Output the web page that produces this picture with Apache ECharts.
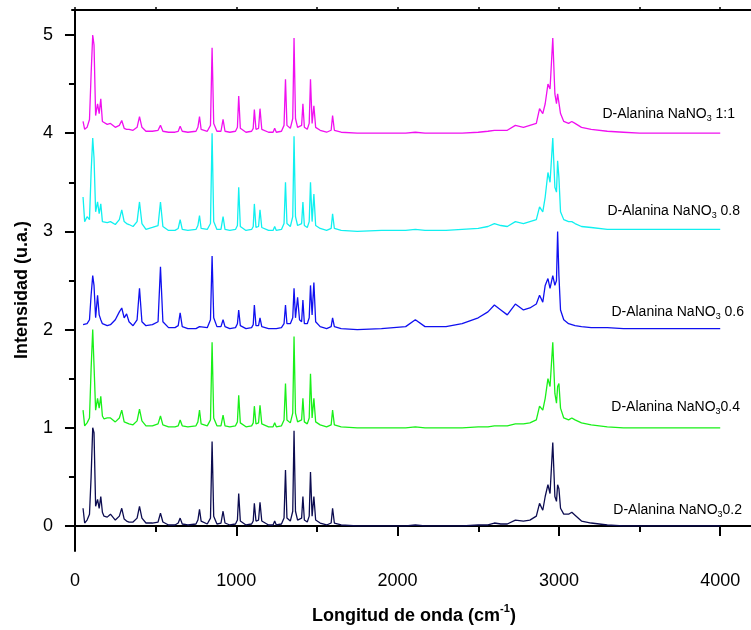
<!DOCTYPE html>
<html>
<head>
<meta charset="utf-8">
<script src="https://cdn.jsdelivr.net/npm/echarts@6/dist/echarts.min.js"></script>
<style>html,body{margin:0;padding:0;background:#fff}#c{width:751px;height:630px}</style>
</head>
<body>
<div id="c"></div>
<script>
// Wavenumber (cm^-1) shared by all spectra
var XS = [
  50, 60, 75, 90, 100, 110, 118, 128, 140, 150, 160, 170, 180, 200, 220, 250, 275, 290, 305, 320,
  335, 360, 385, 400, 415, 440, 480, 515, 530, 545, 580, 620, 640, 652, 665, 700, 750, 762, 772, 782,
  820, 840, 850, 860, 880, 905, 918, 930, 960, 995, 1007, 1015, 1025, 1060, 1095, 1105, 1112, 1122, 1138, 1147,
  1158, 1200, 1228, 1238, 1248, 1280, 1296, 1305, 1314, 1335, 1350, 1358, 1367, 1380, 1392, 1405, 1413, 1422, 1440, 1452,
  1460, 1470, 1481, 1492, 1520, 1560, 1588, 1597, 1608, 1650, 1750, 1900, 2050, 2110, 2170, 2300, 2400, 2500, 2560, 2600,
  2640, 2680, 2730, 2780, 2820, 2860, 2880, 2900, 2915, 2932, 2945, 2962, 2975, 2985, 2992, 3000, 3010, 3030, 3060, 3080,
  3100, 3140, 3200, 3300, 3400, 3500, 3600, 3700, 3800, 4000
];
var Y_02 = [
  0.18, 0.03, 0.06, 0.12, 0.5, 1.0, 0.95, 0.2, 0.27, 0.18, 0.3, 0.14, 0.1, 0.09, 0.12, 0.06, 0.1, 0.18, 0.07, 0.05,
  0.04, 0.04, 0.08, 0.2, 0.08, 0.03, 0.03, 0.04, 0.13, 0.04, 0.01, 0.01, 0.03, 0.08, 0.02, 0.01, 0.02, 0.06, 0.17, 0.05,
  0.02, 0.08, 0.86, 0.1, 0.02, 0.03, 0.15, 0.03, 0.01, 0.02, 0.06, 0.33, 0.05, 0.01, 0.02, 0.05, 0.23, 0.05, 0.06, 0.24,
  0.05, 0.01, 0.01, 0.05, 0.01, 0.02, 0.08, 0.57, 0.08, 0.05, 0.15, 0.97, 0.15, 0.06, 0.06, 0.08, 0.3, 0.06, 0.04, 0.1,
  0.55, 0.1, 0.3, 0.06, 0.03, 0.01, 0.03, 0.18, 0.03, 0.01, 0.0, 0.0, 0.0, 0.01, 0.0, 0.0, 0.0, 0.01, 0.01, 0.03,
  0.02, 0.02, 0.06, 0.05, 0.06, 0.1, 0.23, 0.16, 0.3, 0.42, 0.33, 0.85, 0.3, 0.25, 0.42, 0.38, 0.18, 0.12, 0.12, 0.14,
  0.11, 0.05, 0.03, 0.01, 0.0, 0.0, 0.0, 0.0, 0.0, 0.0
];
var Y_04 = [
  1.18, 1.02, 1.05, 1.1, 1.6, 2.0, 1.98, 1.18, 1.3, 1.2, 1.32, 1.12, 1.09, 1.1, 1.1, 1.06, 1.1, 1.18, 1.06, 1.05,
  1.04, 1.03, 1.07, 1.19, 1.07, 1.02, 1.02, 1.04, 1.12, 1.03, 1.01, 1.01, 1.02, 1.08, 1.02, 1.01, 1.02, 1.06, 1.18, 1.04,
  1.02, 1.08, 1.87, 1.1, 1.02, 1.02, 1.13, 1.02, 1.01, 1.02, 1.06, 1.33, 1.05, 1.01, 1.02, 1.05, 1.22, 1.04, 1.05, 1.23,
  1.04, 1.01, 1.01, 1.05, 1.01, 1.02, 1.08, 1.45, 1.08, 1.05, 1.15, 1.93, 1.15, 1.06, 1.06, 1.08, 1.3, 1.06, 1.04, 1.1,
  1.55, 1.1, 1.3, 1.06, 1.03, 1.01, 1.03, 1.18, 1.03, 1.01, 1.0, 1.0, 1.0, 1.01, 1.0, 1.0, 1.0, 1.01, 1.01, 1.02,
  1.02, 1.02, 1.04, 1.04, 1.05, 1.08, 1.22, 1.18, 1.3, 1.5, 1.42, 1.87, 1.35, 1.25, 1.42, 1.45, 1.2, 1.1, 1.08, 1.1,
  1.08, 1.05, 1.03, 1.01, 1.0, 1.0, 1.0, 1.0, 1.0, 1.0
];
var Y_06 = [
  2.05, 2.03, 2.06, 2.1, 2.35, 2.55, 2.45, 2.12, 2.35, 2.15, 2.1, 2.06, 2.05, 2.04, 2.05, 2.1, 2.18, 2.22, 2.12, 2.16,
  2.08, 2.04, 2.1, 2.42, 2.08, 2.04, 2.05, 2.08, 2.64, 2.08, 2.02, 2.02, 2.04, 2.17, 2.03, 2.01, 2.01, 2.01, 2.03, 2.01,
  2.02, 2.1, 2.75, 2.12, 2.03, 2.03, 2.1, 2.03, 2.01, 2.02, 2.06, 2.2, 2.04, 2.01, 2.02, 2.05, 2.25, 2.04, 2.04, 2.12,
  2.03, 2.01, 2.01, 2.02, 2.01, 2.02, 2.06, 2.25, 2.06, 2.06, 2.12, 2.42, 2.12, 2.33, 2.1, 2.08, 2.3, 2.06, 2.06, 2.12,
  2.45, 2.15, 2.48, 2.08, 2.03, 2.01, 2.03, 2.12, 2.03, 2.01, 2.0, 2.01, 2.03, 2.1, 2.03, 2.03, 2.06, 2.12, 2.18, 2.25,
  2.2, 2.15, 2.26, 2.2, 2.22, 2.26, 2.35, 2.28, 2.45, 2.52, 2.42, 2.55, 2.45, 2.5, 3.0, 2.55, 2.2, 2.1, 2.06, 2.05,
  2.04, 2.03, 2.02, 2.02, 2.01, 2.01, 2.01, 2.01, 2.01, 2.01
];
var Y_08 = [
  3.35, 3.1, 3.15, 3.12, 3.6, 3.95, 3.75, 3.2, 3.3, 3.18, 3.28, 3.1, 3.1, 3.09, 3.1, 3.07, 3.12, 3.22, 3.1, 3.08,
  3.07, 3.05, 3.1, 3.3, 3.08, 3.02, 3.04, 3.06, 3.3, 3.05, 3.01, 3.01, 3.03, 3.12, 3.02, 3.01, 3.02, 3.06, 3.16, 3.03,
  3.02, 3.08, 4.0, 3.1, 3.02, 3.02, 3.15, 3.02, 3.01, 3.02, 3.06, 3.45, 3.05, 3.01, 3.02, 3.05, 3.28, 3.04, 3.05, 3.22,
  3.04, 3.01, 3.01, 3.05, 3.01, 3.02, 3.08, 3.5, 3.08, 3.05, 3.15, 3.97, 3.15, 3.06, 3.06, 3.08, 3.3, 3.06, 3.04, 3.1,
  3.5, 3.1, 3.38, 3.06, 3.03, 3.01, 3.03, 3.18, 3.03, 3.01, 3.0, 3.01, 3.01, 3.02, 3.01, 3.01, 3.02, 3.03, 3.05, 3.08,
  3.06, 3.05, 3.1, 3.08, 3.1, 3.12, 3.25, 3.2, 3.35, 3.6, 3.5, 3.95, 3.45, 3.4, 3.72, 3.55, 3.2, 3.12, 3.1, 3.1,
  3.08, 3.05, 3.04, 3.02, 3.02, 3.02, 3.02, 3.02, 3.02, 3.02
];
var Y_11 = [
  4.12, 4.04, 4.06, 4.14, 4.6, 5.0, 4.9, 4.18, 4.3, 4.2, 4.35, 4.12, 4.1, 4.09, 4.1, 4.06, 4.08, 4.13, 4.05, 4.04,
  4.04, 4.03, 4.06, 4.17, 4.06, 4.02, 4.02, 4.03, 4.08, 4.02, 4.01, 4.01, 4.02, 4.07, 4.02, 4.01, 4.02, 4.06, 4.17, 4.04,
  4.02, 4.08, 4.87, 4.1, 4.02, 4.02, 4.14, 4.02, 4.01, 4.02, 4.06, 4.38, 4.05, 4.01, 4.02, 4.05, 4.24, 4.04, 4.05, 4.25,
  4.04, 4.01, 4.01, 4.05, 4.01, 4.02, 4.08, 4.55, 4.08, 4.05, 4.15, 4.97, 4.15, 4.06, 4.06, 4.08, 4.3, 4.06, 4.04, 4.1,
  4.55, 4.1, 4.28, 4.06, 4.03, 4.01, 4.03, 4.18, 4.03, 4.01, 4.0, 4.0, 4.0, 4.01, 4.0, 4.0, 4.0, 4.01, 4.02, 4.03,
  4.03, 4.03, 4.08, 4.06, 4.08, 4.1, 4.25, 4.2, 4.3, 4.5, 4.45, 4.97, 4.4, 4.3, 4.4, 4.42, 4.2, 4.12, 4.1, 4.12,
  4.1, 4.06, 4.04, 4.02, 4.01, 4.0, 4.0, 4.0, 4.0, 4.0
];
var SERIES_NAMES = ['0.2', '0.4', '0.6', '0.8', '1:1'];
var X_TICKS = [0, 1000, 2000, 3000, 4000];
var X_MINOR = [500, 1500, 2500, 3500];
var Y_TICKS = [0, 1, 2, 3, 4, 5];
var Y_MINOR = [0.5, 1.5, 2.5, 3.5, 4.5];

var FONT = '"Liberation Sans", Arial, Helvetica, sans-serif';
function pairs(ys) { return XS.map(function (x, i) { return [x, ys[i]]; }); }
function plain(v) { return String(Math.round(v)); }

var chart = echarts.init(document.getElementById('c'), null, { renderer: 'canvas' });
var XMIN = -18.46, XMAX = 4190.8, YMIN = -0.255, YMAX = 5.255;
var axisLine = { show: true, lineStyle: { color: '#000', width: 2 } };
var option = {
  animation: false,
  backgroundColor: '#fff',
  grid: { left: 72, right: -5, top: 10, bottom: 79, containLabel: false },
  xAxis: [
    { type: 'value', min: XMIN, max: XMAX, position: 'bottom', axisLine: axisLine,
      axisTick: { show: true, customValues: X_TICKS, length: 10, lineStyle: { color: '#000', width: 2 } },
      axisLabel: { customValues: X_TICKS, formatter: plain, fontSize: 18, color: '#000', fontFamily: FONT, margin: 21 },
      splitLine: { show: false } },
    { type: 'value', min: XMIN, max: XMAX, position: 'bottom', axisLine: { show: false },
      axisTick: { show: true, customValues: X_MINOR, length: 6, lineStyle: { color: '#000', width: 2 } },
      axisLabel: { show: false }, splitLine: { show: false } },
    { type: 'value', min: XMIN, max: XMAX, position: 'top', axisLine: axisLine,
      axisTick: { show: true, customValues: X_TICKS.concat(X_MINOR), length: 3, lineStyle: { color: '#000', width: 1.5 } },
      axisLabel: { show: false }, splitLine: { show: false } }
  ],
  yAxis: [
    { type: 'value', min: YMIN, max: YMAX, position: 'left', axisLine: axisLine,
      axisTick: { show: true, customValues: Y_TICKS, length: 10, lineStyle: { color: '#000', width: 2 } },
      axisLabel: { customValues: Y_TICKS, formatter: plain, fontSize: 18, color: '#000', fontFamily: FONT, margin: 19 },
      splitLine: { show: false } },
    { type: 'value', min: YMIN, max: YMAX, position: 'left', axisLine: { show: false },
      axisTick: { show: true, customValues: Y_MINOR, length: 6, lineStyle: { color: '#000', width: 2 } },
      axisLabel: { show: false }, splitLine: { show: false } }
  ],
  series: [
    { name: SERIES_NAMES[0], type: 'line', data: pairs(Y_02), color: '#0c0c50' },
    { name: SERIES_NAMES[1], type: 'line', data: pairs(Y_04), color: '#19f019' },
    { name: SERIES_NAMES[2], type: 'line', data: pairs(Y_06), color: '#1010f0' },
    { name: SERIES_NAMES[3], type: 'line', data: pairs(Y_08), color: '#10f0f0' },
    { name: SERIES_NAMES[4], type: 'line', data: pairs(Y_11), color: '#f010f0' }
  ].map(function (s) {
    s.showSymbol = false; s.symbol = 'none'; s.xAxisIndex = 0; s.yAxisIndex = 0;
    s.lineStyle = { width: 1.3, color: s.color }; s.silent = true;
    return s;
  }),
  graphic: []
};

var LABELS = [
  { text: '{a|D-Alanina NaNO}{s|3}{a| 1:1}', x: 735, y: 114 },
  { text: '{a|D-Alanina NaNO}{s|3}{a| 0.8}', x: 740, y: 211 },
  { text: '{a|D-Alanina NaNO}{s|3}{a| 0.6}', x: 744, y: 312 },
  { text: '{a|D-Alanina NaNO}{s|3}{a|0.4}', x: 740, y: 407 },
  { text: '{a|D-Alanina NaNO}{s|3}{a|0.2}', x: 742, y: 510 }
];
LABELS.forEach(function (l) {
  option.graphic.push({
    type: 'text', x: l.x, y: l.y, silent: true,
    style: {
      text: l.text, align: 'right', verticalAlign: 'middle', fill: '#000',
      rich: {
        a: { fontSize: 14, fontFamily: FONT, lineHeight: 18, verticalAlign: 'middle', fill: '#000' },
        s: { fontSize: 9, fontFamily: FONT, lineHeight: 18, verticalAlign: 'bottom', fill: '#000' }
      }
    }
  });
});
option.graphic.push({
  type: 'text', x: 414, y: 614, silent: true,
  style: {
    text: '{b|Longitud de onda (cm}{p|-1}{b|)}', align: 'center', verticalAlign: 'middle',
    rich: {
      b: { fontSize: 18, fontWeight: 'bold', fontFamily: FONT, lineHeight: 22, verticalAlign: 'bottom', fill: '#000' },
      p: { fontSize: 11, fontWeight: 'bold', fontFamily: FONT, lineHeight: 22, verticalAlign: 'top', fill: '#000' }
    }
  }
});
option.graphic.push({
  type: 'text', x: 22, y: 290, rotation: Math.PI / 2, silent: true,
  style: {
    text: 'Intensidad (u.a.)', align: 'center', verticalAlign: 'middle',
    fontSize: 18, fontWeight: 'bold', fontFamily: FONT, fill: '#000'
  }
});
chart.setOption(option);
</script>
</body>
</html>
